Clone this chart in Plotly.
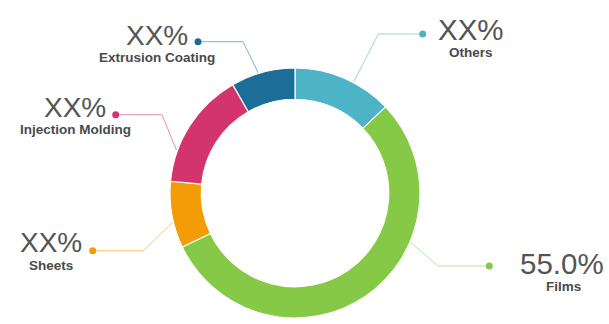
import math
import plotly.graph_objects as go

# ---- data ----
labels = ["Others", "Films", "Sheets", "Injection Molding", "Extrusion Coating"]
values = [12.9, 55.0, 8.6, 15.2, 8.3]
value_texts = ["XX%", "55.0%", "XX%", "XX%", "XX%"]

# ---- style / layout ----
W, H = 609, 324
colors = ["#4db4c8", "#85c946", "#f39c05", "#d3346b", "#1d6d99"]
dom_x = [170 / W, 420 / W]
dom_y = [1 - 318 / H, 1 - 68 / H]
hole = 0.75
cx = (dom_x[0] + dom_x[1]) / 2 * W
cy = (1 - (dom_y[0] + dom_y[1]) / 2) * H
R = 126

# per-label callout placement (pixels): value centre, label centre, dot, elbow x, anchor fraction within slice
callouts = {
    "Others":            dict(val=(470.5, 29), lab=(471, 52.3), dot=(422.7, 34), elbow=378.3, frac=0.60, vs=29.5),
    "Films":             dict(val=(562, 263.3), lab=(563, 286.8), dot=(489.3, 266), elbow=438.3, frac=0.337, vs=29.5),
    "Sheets":            dict(val=(50.5, 242.5), lab=(51, 265.3), dot=(92.7, 250.7), elbow=143.5, frac=0.39, vs=28),
    "Injection Molding": dict(val=(74.5, 107.8), lab=(75, 129.8), dot=(115.7, 114.7), elbow=162, frac=0.265, vs=28),
    "Extrusion Coating": dict(val=(156.5, 35.2), lab=(157, 57.3), dot=(198, 41.7), elbow=243, frac=0.43, vs=28),
}

fig = go.Figure()

total = sum(values)
start = 0.0
for lab, v, col in zip(labels, values, colors):
    span = v / total * 360
    c = callouts[lab]
    ang = math.radians(start + c["frac"] * span)
    ax_, ay_ = cx + R * math.sin(ang), cy - R * math.cos(ang)
    dx, dy = c["dot"]
    fig.add_trace(go.Scatter(
        x=[dx, c["elbow"], ax_], y=[dy, dy, ay_], mode="lines",
        line=dict(color=col, width=1), opacity=0.55, hoverinfo="skip", showlegend=False))
    fig.add_trace(go.Scatter(
        x=[dx], y=[dy], mode="markers", marker=dict(color=col, size=7),
        hoverinfo="skip", showlegend=False))
    start += span

fig.add_trace(go.Pie(
    labels=labels, values=values, sort=False, direction="clockwise", rotation=0,
    hole=hole, domain=dict(x=dom_x, y=dom_y), textinfo="none",
    marker=dict(colors=colors, line=dict(color="white", width=1.2)),
    showlegend=False))

fam = "Liberation Sans, Arial"
annotations = []
for lab, vt in zip(labels, value_texts):
    c = callouts[lab]
    annotations.append(dict(x=c["val"][0], y=c["val"][1], xref="x", yref="y", text=vt,
                            showarrow=False, xanchor="center", yanchor="middle",
                            font=dict(family=fam, size=c["vs"], color="#555555")))
    annotations.append(dict(x=c["lab"][0], y=c["lab"][1], xref="x", yref="y", text=lab,
                            showarrow=False, xanchor="center", yanchor="middle",
                            font=dict(family=fam, size=13.5, color="#4a4a4a", weight="bold")))

fig.update_layout(
    width=W, height=H, margin=dict(l=0, r=0, t=0, b=0),
    paper_bgcolor="white", plot_bgcolor="white",
    xaxis=dict(range=[0, W], visible=False, domain=[0, 1], fixedrange=True),
    yaxis=dict(range=[H, 0], visible=False, domain=[0, 1], fixedrange=True),
    annotations=annotations,
)

fig.write_html("out.html")
